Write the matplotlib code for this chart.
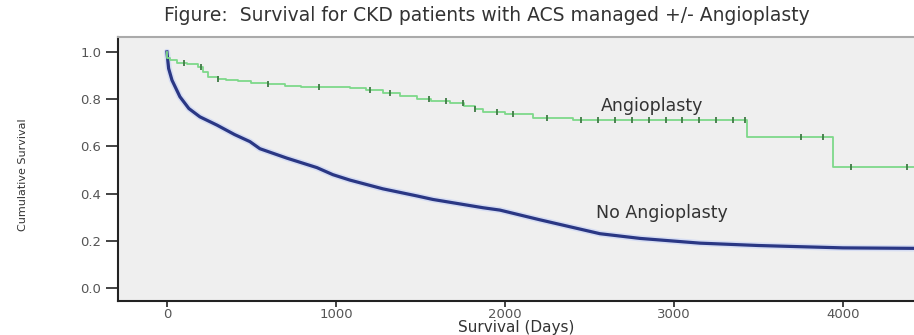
import numpy as np
import matplotlib.pyplot as plt

# Kaplan-Meier estimates
no_angio_days = [0, 10, 30, 77, 130, 195, 296, 400, 491, 550, 710, 887, 982, 1083,
                 1278, 1479, 1574, 1870, 1970, 2200, 2562, 2800, 3154, 3500, 3746,
                 4000, 4420]
no_angio_surv = [1.0, 0.93, 0.88, 0.81, 0.76, 0.725, 0.69, 0.65, 0.62, 0.59, 0.55,
                 0.51, 0.48, 0.457, 0.42, 0.39, 0.375, 0.34, 0.33, 0.29, 0.23, 0.21,
                 0.19, 0.18, 0.175, 0.17, 0.168]

angio_days = [0, 3, 20, 60, 120, 183, 215, 243, 300, 350, 420, 497, 600, 700, 793,
              1083, 1180, 1278, 1380, 1479, 1560, 1675, 1760, 1820, 1870, 2000,
              2166, 2400, 3432, 3941, 4420]
angio_surv = [1.0, 0.975, 0.966, 0.955, 0.948, 0.937, 0.915, 0.894, 0.885, 0.88,
              0.875, 0.87, 0.862, 0.856, 0.85, 0.847, 0.838, 0.826, 0.812, 0.80,
              0.79, 0.784, 0.77, 0.758, 0.746, 0.735, 0.72, 0.712, 0.64, 0.513,
              0.513]

# censored observations (tick marks) on the angioplasty curve
angio_censored = [100, 200, 300, 600, 900, 1200, 1320, 1550, 1650, 1750, 1820,
                  1950, 2050, 2250, 2450, 2550, 2650, 2750, 2850, 2950, 3050,
                  3150, 3250, 3350, 3420, 3750, 3880, 4050, 4380]

xticks = [0, 1000, 2000, 3000, 4000]
yticks = [0.0, 0.2, 0.4, 0.6, 0.8, 1.0]


def step_value(days, surv, t):
    idx = np.searchsorted(days, t, side="right") - 1
    return np.asarray(surv)[idx]


fig = plt.figure(figsize=(9.14, 3.35), dpi=100)
ax = fig.add_axes([0.129, 0.1015, 0.871, 0.788])
ax.set_facecolor("#efefef")

# dense KM curve for the large group looks smooth
ax.plot(no_angio_days, no_angio_surv, color="#d6ddf3", lw=4.5, solid_capstyle="round")
ax.plot(no_angio_days, no_angio_surv, color="#2a3784", lw=2.3)
ax.plot(angio_days, angio_surv, drawstyle="steps-post", color="#7ed88a", lw=1.3)
cy = step_value(angio_days, angio_surv, angio_censored)
ax.plot(angio_censored, cy, ls="none", marker="|", ms=4, mew=1.3, color="#3f7a45")

ax.text(2870, 0.77, "Angioplasty", ha="center", va="center", fontsize=12.5, color="#333333")
ax.text(2930, 0.318, "No Angioplasty", ha="center", va="center", fontsize=12.5, color="#333333")

ax.set_xlim(-290, 4420)
ax.set_ylim(-0.055, 1.063)
ax.set_xticks(xticks)
ax.set_yticks(yticks)
ax.set_xticklabels([str(x) for x in xticks], fontsize=9.5, color="#555555")
ax.set_yticklabels([f"{y:.1f}" for y in yticks], fontsize=9.5, color="#555555")
ax.tick_params(axis="x", direction="out", length=4, width=1.2, color="#222222", pad=1)
ax.tick_params(axis="y", direction="out", length=9, width=1.2, color="#222222", pad=3)

for s in ["left", "bottom"]:
    ax.spines[s].set_color("#222222")
    ax.spines[s].set_linewidth(1.5)
ax.spines["top"].set_color("#aaaaaa")
ax.spines["top"].set_linewidth(1.5)
ax.spines["right"].set_visible(False)

ax.set_xlabel("Survival (Days)", fontsize=11, color="#333333")
ax.xaxis.label.set_va("center")
ax.xaxis.set_label_coords(0.5, -0.1)
ax.set_ylabel("Cumulative Survival", fontsize=8, color="#333333")
ax.yaxis.label.set_va("center")
ax.yaxis.set_label_coords(-0.119, 0.48)
fig.text(0.533, 0.955, "Figure:  Survival for CKD patients with ACS managed +/- Angioplasty",
         ha="center", va="center", fontsize=13.5, color="#333333")

fig.savefig("out.png", dpi=100)
